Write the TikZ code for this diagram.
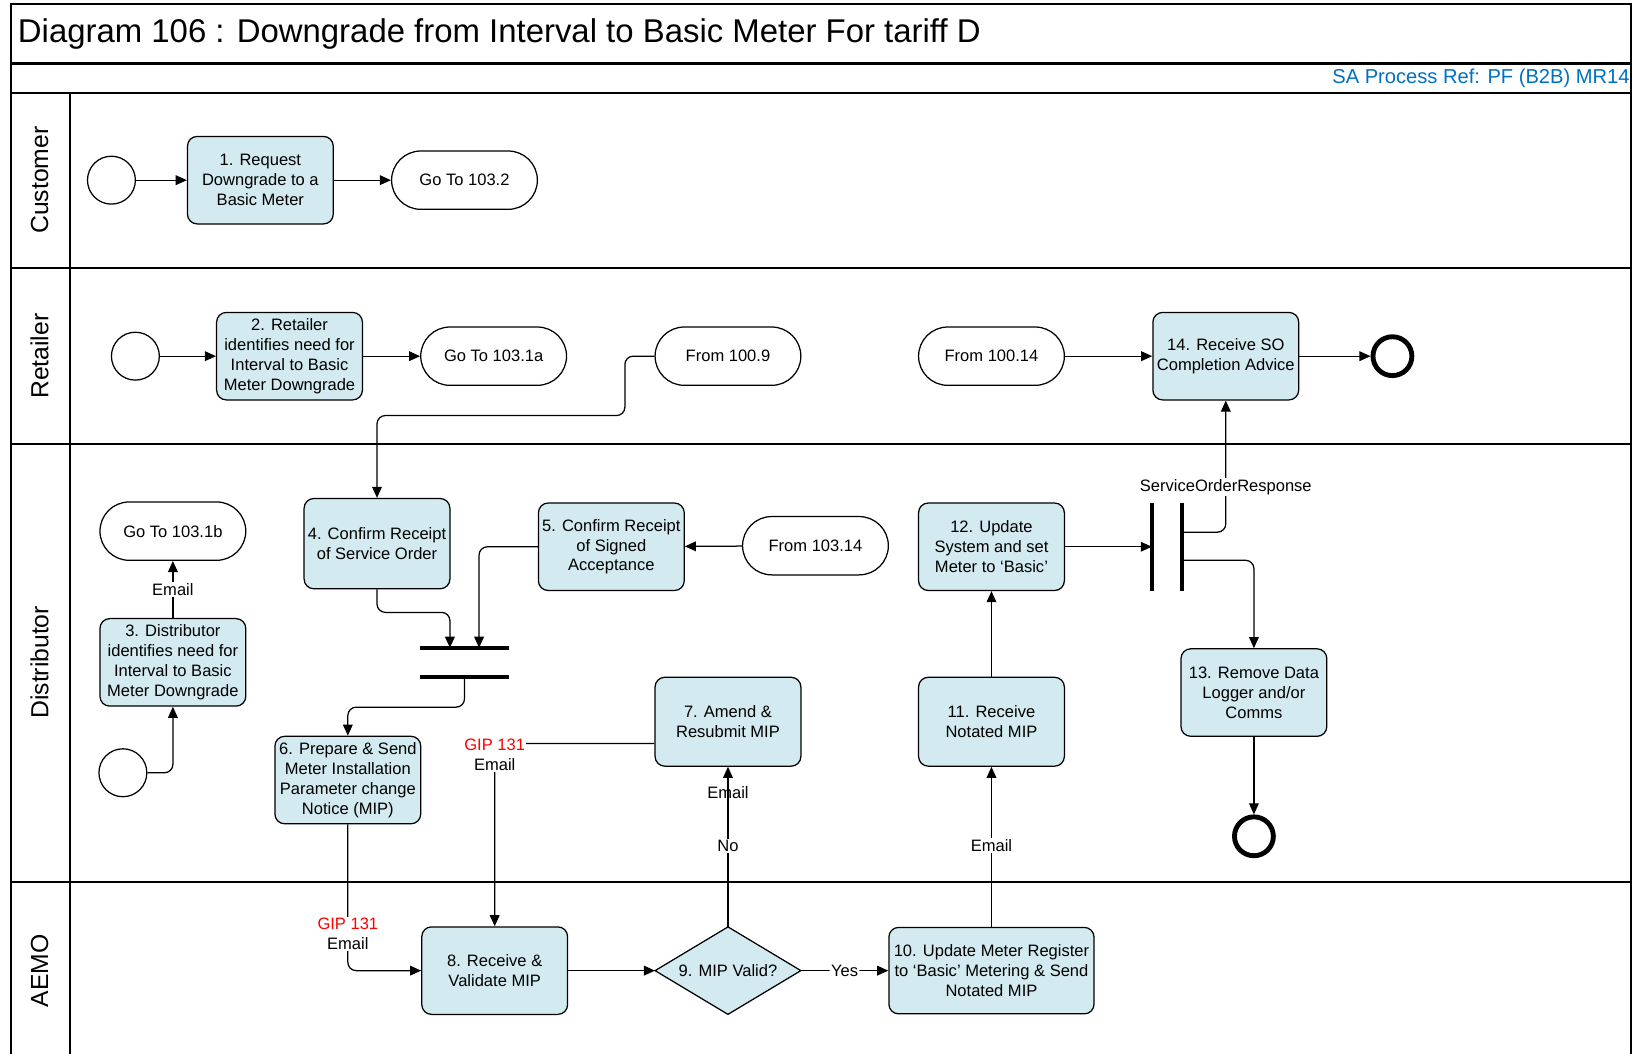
\documentclass[tikz,border=0pt]{standalone}
\usepackage{fontspec}
\setmainfont{Liberation Sans}
\usetikzlibrary{arrows.meta,calc}
\definecolor{boxblue}{RGB}{210,234,240}
\definecolor{refblue}{RGB}{0,112,192}
\newcommand\boxfont{\fontsize{11.9}{14.25}\selectfont}
\newcommand\lanefont{\fontsize{17.8}{20}\selectfont}
\newcommand\titlefont{\fontsize{23.7}{28}\selectfont}
\newcommand\reffont{\fontsize{14.5}{16}\selectfont}
\begin{document}
\begin{tikzpicture}[x=0.75pt,y=-0.75pt,
  frame/.style={line width=1.5pt},
  task/.style={draw, fill=boxblue, rounded corners=7pt, line width=0.9pt, minimum width=105pt, minimum height=63pt, align=center, inner sep=0pt, font=\boxfont},
  term/.style={draw, fill=white, rounded corners=21pt, line width=0.9pt, minimum width=105pt, minimum height=42pt, inner sep=0pt, font=\boxfont},
  startev/.style={draw, circle, fill=white, line width=0.9pt, minimum size=34.5pt, inner sep=0pt},
  endev/.style={draw, circle, fill=white, line width=3.5pt, minimum size=28pt, inner sep=0pt},
  conn/.style={line width=0.9pt, rounded corners=6pt, -{Triangle[length=8pt,width=7pt]}},
  lbl/.style={fill=white, inner sep=1pt, font=\boxfont, align=center},
  bar/.style={line width=2.5pt},
  lane/.style={rotate=90, font=\lanefont},
]
\useasboundingbox (0,0) rectangle (1568,1012);

% frame
\draw[frame] (11,1012) -- (11,4) -- (1566,4) -- (1566,1012);
\draw[frame] (11,61) -- (1566,61);
\draw[frame] (11,89) -- (1566,89);
\draw[frame] (11,257) -- (1566,257);
\draw[frame] (11,426) -- (1566,426);
\draw[frame] (11,847) -- (1566,847);
\draw[frame] (67,89) -- (67,1012);

\node[anchor=west, inner sep=0pt, font=\titlefont] (title) at (17,33) {Diagram 106 : Downgrade from Interval to Basic Meter For tariff D};
\node[anchor=east, inner sep=0pt, font=\reffont, text=refblue] (ref) at (1565,75) {SA Process Ref: PF (B2B) MR14};

\node[lane] (ln1) at (38,173) {Customer};
\node[lane] (ln2) at (38,342) {Retailer};
\node[lane] (ln3) at (38,636) {Distributor};
\node[lane] (ln4) at (38,932) {AEMO};

% Customer
\node[startev] (s1) at (107,173) {};
\node[task] (b1) at (250,173) {1. Request\\Downgrade to a\\Basic Meter};
\node[term] (g1) at (446,173) {Go To 103.2};

% Retailer
\node[startev] (s2) at (130,342) {};
\node[task] (b2) at (278,342) {2. Retailer\\identifies need for\\Interval to Basic\\Meter Downgrade};
\node[term] (g2) at (474,342) {Go To 103.1a};
\node[term] (f1) at (699,342) {From 100.9};
\node[term] (f2) at (952,342) {From 100.14};
\node[task] (b14) at (1177,342) {14. Receive SO\\Completion Advice};
\node[endev] (e14) at (1337,342) {};

% Distributor
\node[term] (g3) at (166,510) {Go To 103.1b};
\node[task] (b3) at (166,636) {3. Distributor\\identifies need for\\Interval to Basic\\Meter Downgrade};
\node[startev] (s3) at (118,742) {};
\node[task, minimum height=65pt] (b4) at (362,522) {4. Confirm Receipt\\of Service Order};
\node[task] (b5) at (587,525) {5. Confirm Receipt\\of Signed\\Acceptance};
\node[term] (f3) at (783,524) {From 103.14};
\node[task] (b6) at (334,749) {6. Prepare \& Send\\Meter Installation\\Parameter change\\Notice (MIP)};
\node[task, minimum height=64pt] (b7) at (699,693) {7. Amend \&\\Resubmit MIP};
\node[task, minimum height=64pt] (b11) at (952,693) {11. Receive\\Notated MIP};
\node[task] (b12) at (952,525) {12. Update\\System and set\\Meter to ‘Basic’};
\node[task] (b13) at (1204,665) {13. Remove Data\\Logger and/or\\Comms};
\node[endev] (e13) at (1204,803) {};

% bars
\coordinate (j1a) at (403,622); \coordinate (j1b) at (489,622);
\coordinate (j2a) at (403,650); \coordinate (j2b) at (489,650);
\coordinate (j3a) at (1106,483); \coordinate (j3b) at (1106,567);
\coordinate (j4a) at (1135,483); \coordinate (j4b) at (1135,567);
\draw[bar] (j1a) -- (j1b);
\draw[bar] (j2a) -- (j2b);
\draw[bar] (j3a) -- (j3b);
\draw[bar] (j4a) -- (j4b);

% AEMO
\node[task] (b8) at (475,932) {8. Receive \&\\Validate MIP};
\coordinate (d9n) at (699,890);
\coordinate (d9s) at (699,974);
\coordinate (d9w) at (629,932);
\coordinate (d9e) at (769,932);
\draw[fill=boxblue, line width=0.9pt] (d9n) -- (d9e) -- (d9s) -- (d9w) -- cycle;
\node[font=\boxfont, inner sep=0pt] (d9) at (699,932) {9. MIP Valid?};
\node[task, minimum width=147.75pt, minimum height=62.25pt] (b10) at (952,932) {10. Update Meter Register\\to ‘Basic’ Metering \& Send\\Notated MIP};

% connectors
\draw[conn] (s1) -- (b1);
\draw[conn] (b1) -- (g1);
\draw[conn] (s2) -- (b2);
\draw[conn] (b2) -- (g2);
\draw[conn] (f2) -- (b14);
\draw[conn] (b14) -- (e14);
\coordinate (k1) at (600,399);
\draw[conn] (f1.west) -| (k1) -| (b4.north);

\draw[conn] (s3.east) -| (b3.south);
\draw[conn] (b3.north) -- node[lbl] (l0) {Email} (g3.south);

\coordinate (k2) at (432,588);
\draw[conn] (b4.south) |- (k2) -- (k2 |- j1a);
\coordinate (j1in) at (460,622);
\draw[conn] (b5.west) -| (j1in);
\coordinate (j2out) at (446,650);
\coordinate (k3) at (446,679);
\draw[conn] (j2out) -- (k3) -| (b6.north);

\draw[conn] (b6.south) |- (b8.west);
\node[lbl] (l1) at (334,897) {\textcolor{red}{GIP 131}\\Email};

\coordinate (b7w) at ($(b7.west)+(0,21)$);
\draw[conn] (b7w) -| (b8.north);
\node[lbl] (l2) at (475,725) {\textcolor{red}{GIP 131}\\Email};

\draw[conn] (f3) -- (b5);
\draw[conn] (b11) -- (b12);
\draw[conn] (b12.east) -- (b12.east -| j3a);
\coordinate (o1) at (1135,511);
\coordinate (o2) at (1135,538);
\draw[conn] (o1) -| (b14.south);
\node[lbl] (l3) at (1177,468) {ServiceOrderResponse};
\draw[conn] (o2) -| (b13.north);
\draw[conn] (b13) -- (e13);

\draw[conn] (b8.east) -- (d9w);
\draw[conn] (d9e) -- node[lbl] (l4) {Yes} (b10.west);
\draw[conn] (d9n) -- (b7.south);
\node[lbl] (l5) at (699,812) {No};
\node[font=\boxfont, inner sep=1pt] (l6) at (699,761) {Email};
\draw[conn] (b10.north) -- (b11.south);
\node[lbl] (l7) at (952,812) {Email};
\end{tikzpicture}
\end{document}
